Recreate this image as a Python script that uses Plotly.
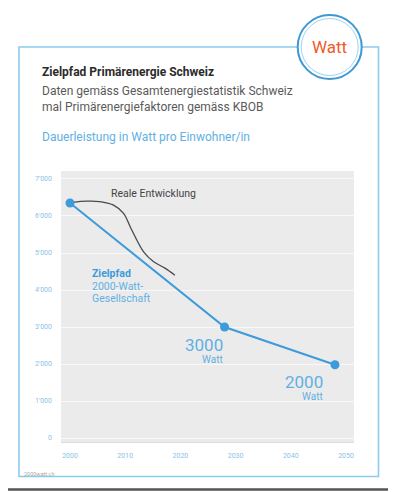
import plotly.graph_objects as go

# ---------------- data ----------------
ziel_years = [2000, 2028, 2048]
ziel_values = [6350, 3000, 1980]

real_years = [2000.4, 2003.0, 2005.4, 2007.8, 2009.7, 2010.9, 2012.1, 2013.3, 2015.1, 2017.2, 2019.0]
real_values = [6370, 6400, 6390, 6300, 6070, 5710, 5350, 5040, 4770, 4590, 4400]

y_ticks = [0, 1000, 2000, 3000, 4000, 5000, 6000, 7000]
y_tick_labels = ["0", "1'000", "2'000", "3'000", "4'000", "5'000", "6'000", "7'000"]
x_ticks = [2000, 2010, 2020, 2030, 2040, 2050]
x_tick_labels = ["2000", "2010", "2020", "2030", "2040", "2050"]

title = "Zielpfad Primärenergie Schweiz"
subtitle1 = "Daten gemäss Gesamtenergiestatistik Schweiz"
subtitle2 = "mal Primärenergiefaktoren gemäss KBOB"
unit_label = "Dauerleistung in Watt pro Einwohner/in"

# ---------------- layout geometry ----------------
# page body has an 8px margin, so the figure is drawn 8px smaller / offset
OFF = 8
W, H = 396 - OFF, 492 - OFF
L, R, T, B = 61, 42, 171, 50          # plot area in page pixels
PW, PH = 396 - L - R, 492 - T - B


def px(x):
    return (x - L) / PW


def py(y):
    return (492 - B - y) / PH


BLUE = "#3d9bdb"
LIGHTBLUE = "#62b0e3"
TICKBLUE = "#8cc2e4"
FRAME = "#8ccbef"
FONT = "Roboto"

fig = go.Figure()

fig.add_trace(go.Scatter(
    x=real_years, y=real_values, mode="lines",
    line=dict(color="#4a4a4a", width=1.3, shape="spline", smoothing=1.0),
    hoverinfo="skip", showlegend=False,
))
fig.add_trace(go.Scatter(
    x=ziel_years, y=ziel_values, mode="lines+markers",
    line=dict(color=BLUE, width=2),
    marker=dict(color=BLUE, size=9),
    showlegend=False,
))

shapes = [
    # outer frame
    dict(type="rect", xref="paper", yref="paper",
         x0=px(19), x1=px(378.5), y0=py(476.5), y1=py(47),
         line=dict(color=FRAME, width=1.6), layer="above"),
    # circle badge
    dict(type="circle", xref="paper", yref="paper",
         x0=px(329.7 - 32), x1=px(329.7 + 32), y0=py(47 + 32), y1=py(47 - 32),
         line=dict(color="#3d98d6", width=2), fillcolor="white", layer="above"),
    dict(type="circle", xref="paper", yref="paper",
         x0=px(329.7 - 28.5), x1=px(329.7 + 28.5), y0=py(47 + 28.5), y1=py(47 - 28.5),
         line=dict(color="#9fd2f0", width=1), layer="above"),
    # image border (bottom)
    dict(type="line", xref="paper", yref="paper",
         x0=px(8), x1=px(396), y0=py(489.5), y1=py(489.5),
         line=dict(color="#555555", width=2.5), layer="above"),
]

annotations = [
    dict(text="Watt", x=px(329.5), y=py(47), xanchor="center", yanchor="middle",
         font=dict(family=FONT, size=17, color="#ef5a2a")),
    dict(text="<b>" + title + "</b>", x=px(40), y=py(72), xanchor="left", yanchor="middle",
         font=dict(family=FONT, size=12, color="#2b2b2b")),
    dict(text=subtitle1, x=px(40), y=py(91), xanchor="left", yanchor="middle",
         font=dict(family=FONT, size=12, color="#5a5a5a")),
    dict(text=subtitle2, x=px(40), y=py(107), xanchor="left", yanchor="middle",
         font=dict(family=FONT, size=12, color="#5a5a5a")),
    dict(text=unit_label, x=px(40), y=py(137), xanchor="left", yanchor="middle",
         font=dict(family=FONT, size=12, color=LIGHTBLUE)),
    dict(text="2000watt.ch", x=px(22), y=py(474), xanchor="left", yanchor="middle",
         font=dict(family=FONT, size=5.5, color="#aaaaaa")),
    # chart labels
    dict(text="Reale Entwicklung", x=px(109), y=py(193), xanchor="left", yanchor="middle",
         font=dict(family=FONT, size=10.5, color="#444444")),
    dict(text="<b>Zielpfad</b>", x=px(90), y=py(273), xanchor="left", yanchor="middle",
         font=dict(family=FONT, size=10.5, color=BLUE)),
    dict(text="2000-Watt-", x=px(90), y=py(286), xanchor="left", yanchor="middle",
         font=dict(family=FONT, size=10.5, color=LIGHTBLUE)),
    dict(text="Gesellschaft", x=px(90), y=py(298), xanchor="left", yanchor="middle",
         font=dict(family=FONT, size=10.5, color=LIGHTBLUE)),
    dict(text="3000", x=px(225), y=py(345), xanchor="right", yanchor="middle",
         font=dict(family=FONT, size=17, color=LIGHTBLUE)),
    dict(text="Watt", x=px(225), y=py(359), xanchor="right", yanchor="middle",
         font=dict(family=FONT, size=10, color=LIGHTBLUE)),
    dict(text="2000", x=px(325), y=py(382), xanchor="right", yanchor="middle",
         font=dict(family=FONT, size=17, color=LIGHTBLUE)),
    dict(text="Watt", x=px(325), y=py(396), xanchor="right", yanchor="middle",
         font=dict(family=FONT, size=10, color=LIGHTBLUE)),
]
for a in annotations:
    a.setdefault("xref", "paper")
    a.setdefault("yref", "paper")
    a["showarrow"] = False

fig.update_layout(
    width=W, height=H,
    margin=dict(l=L - OFF, r=R, t=T - OFF, b=B, pad=0),
    paper_bgcolor="white",
    plot_bgcolor="#ebebeb",
    font=dict(family=FONT),
    shapes=shapes,
    annotations=annotations,
    showlegend=False,
    xaxis=dict(
        range=[2000 - 9 / 5.52, 2000 + 284 / 5.52],
        tickvals=x_ticks, ticktext=x_tick_labels,
        showgrid=False, zeroline=False,
        showline=True, linecolor="#dcdcdc", linewidth=1,
        tickfont=dict(family=FONT, size=7, color=TICKBLUE),
        ticks="", ticklabelstandoff=7,
        fixedrange=True,
    ),
    yaxis=dict(
        range=[-108, 7216],
        tickvals=y_ticks, ticktext=y_tick_labels,
        showgrid=True, gridcolor="#f8f8f8", gridwidth=1,
        zeroline=False,
        tickfont=dict(family=FONT, size=7, color=TICKBLUE),
        ticks="", ticklabelstandoff=8,
        fixedrange=True,
    ),
)

fig.write_html("out.html")
